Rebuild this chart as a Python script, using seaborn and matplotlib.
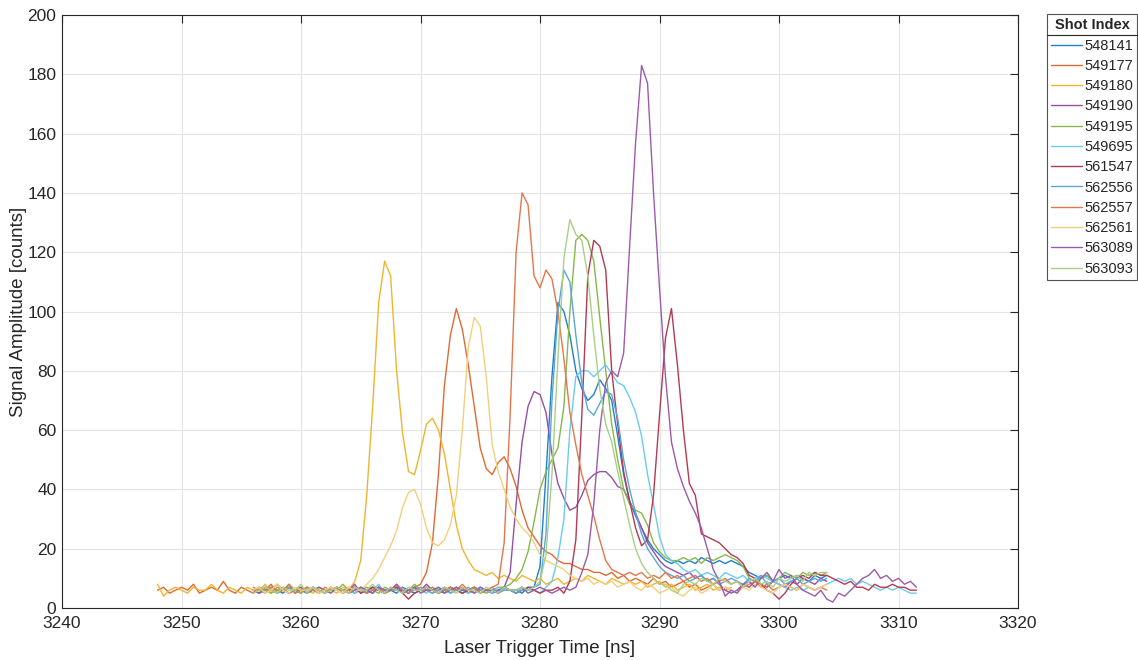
import numpy as np
import pandas as pd
import matplotlib
matplotlib.use('Agg')
import matplotlib.pyplot as plt
import seaborn as sns
from matplotlib.lines import Line2D

# shot numbers, in legend order
shots = ['548141', '549177', '549180', '549190', '549195', '549695',
         '561547', '562556', '562557', '562561', '563089', '563093']

# first sample time of each record [ns], samples every 0.5 ns
start_ns = [3256, 3248, 3248, 3256, 3256, 3264,
            3264, 3256, 3256, 3256, 3264, 3256]
step_ns = 0.5

s548141 = [6, 5, 6, 7, 6, 5, 7, 6, 6, 5,
           7, 6, 5, 6, 7, 6, 6, 5, 7, 6,
           5, 7, 6, 6, 5, 7, 6, 5, 6, 7,
           6, 6, 5, 7, 6, 5, 6, 7, 6, 6,
           5, 6, 7, 6, 6, 5, 7, 7, 14, 45,
           78, 103, 100, 92, 80, 74, 70, 72, 77, 74,
           70, 58, 45, 36, 31, 27, 23, 20, 18, 16,
           15, 16, 15, 16, 15, 17, 16, 15, 16, 15,
           16, 15, 14, 12, 11, 10, 11, 9, 10, 11,
           10, 11, 10, 9, 11, 10, 11]

s549177 = [6, 7, 5, 6, 7, 6, 8, 5, 6, 7,
           6, 9, 6, 5, 7, 6, 5, 7, 6, 8,
           5, 6, 7, 6, 5, 7, 6, 6, 5, 7,
           6, 5, 7, 6, 6, 5, 7, 6, 5, 6,
           7, 6, 5, 7, 8, 12, 22, 45, 75, 92,
           101, 94, 82, 68, 54, 47, 45, 49, 51, 47,
           41, 33, 27, 24, 21, 19, 18, 16, 15, 15,
           14, 13, 13, 12, 12, 11, 12, 10, 11, 9,
           10, 9, 8, 10, 8, 9, 7, 8, 9, 7,
           8, 6, 7, 8, 6, 7, 6]

s549180 = [8, 4, 6, 7, 6, 5, 7, 6, 6, 8,
           6, 5, 7, 6, 5, 7, 6, 6, 8, 5,
           6, 7, 5, 6, 7, 6, 5, 7, 6, 6,
           5, 7, 6, 9, 16, 38, 68, 103, 117, 112,
           80, 59, 46, 45, 53, 62, 64, 60, 52, 40,
           28, 20, 16, 13, 12, 11, 12, 10, 11, 10,
           9, 11, 10, 9, 10, 8, 9, 10, 8, 9,
           10, 9, 11, 10, 9, 8, 10, 9, 8, 9,
           8, 9, 7, 8, 9, 7, 8, 6, 7, 8,
           6, 7, 8, 6, 7, 6, 7]

s549190 = [6, 5, 7, 6, 8, 6, 5, 6, 7, 5,
           6, 7, 6, 5, 7, 6, 6, 8, 5, 6,
           7, 6, 5, 7, 6, 6, 5, 7, 6, 8,
           6, 5, 7, 6, 6, 7, 5, 6, 7, 6,
           5, 6, 7, 12, 35, 56, 68, 73, 72, 66,
           52, 42, 37, 33, 34, 38, 43, 45, 46, 46,
           44, 41, 40, 36, 32, 27, 22, 19, 16, 14,
           13, 12, 11, 12, 10, 11, 9, 10, 8, 6,
           5, 6, 8, 7, 9, 8, 7, 9, 8, 7,
           9, 8, 10, 9, 8, 10, 9]

s549195 = [6, 7, 6, 5, 7, 6, 8, 6, 5, 7,
           6, 6, 5, 7, 6, 8, 6, 5, 6, 7,
           6, 5, 7, 6, 7, 5, 6, 8, 6, 6,
           5, 7, 6, 6, 7, 5, 6, 7, 6, 5,
           6, 7, 7, 8, 10, 13, 19, 29, 40, 46,
           50, 54, 68, 100, 124, 126, 124, 117, 98, 80,
           62, 50, 40, 35, 33, 32, 28, 22, 19, 17,
           16, 16, 17, 16, 17, 15, 17, 16, 17, 18,
           17, 16, 14, 10, 9, 10, 11, 9, 10, 12,
           11, 10, 12, 11, 12, 11, 12]

s549695 = [6, 5, 7, 6, 6, 8, 5, 6, 7, 5,
           6, 7, 6, 5, 7, 6, 6, 5, 7, 6,
           5, 6, 7, 6, 5, 7, 6, 6, 5, 7,
           6, 6, 5, 7, 9, 17, 30, 60, 78, 80,
           80, 78, 80, 82, 79, 76, 75, 71, 66, 58,
           45, 35, 24, 18, 16, 15, 13, 12, 13, 11,
           12, 11, 10, 12, 11, 10, 11, 9, 10, 11,
           10, 9, 8, 7, 6, 7, 6, 7, 6, 7,
           8, 9, 10, 9, 10, 8, 9, 8, 7, 6,
           7, 6, 7, 6, 5, 5]

s561547 = [6, 7, 5, 6, 7, 6, 5, 6, 7, 5,
           3, 5, 6, 7, 6, 5, 6, 7, 6, 5,
           6, 7, 5, 6, 6, 5, 7, 6, 5, 6,
           7, 6, 5, 6, 6, 7, 5, 9, 23, 65,
           112, 124, 122, 114, 80, 62, 46, 36, 27, 21,
           23, 38, 65, 91, 101, 82, 60, 42, 38, 25,
           24, 23, 22, 20, 18, 17, 15, 11, 10, 8,
           6, 5, 3, 5, 8, 10, 11, 10, 12, 11,
           11, 10, 9, 8, 9, 7, 7, 6, 8, 7,
           7, 8, 7, 7, 6, 6]

s562556 = [5, 6, 7, 6, 5, 6, 7, 5, 6, 6,
           7, 5, 6, 6, 7, 6, 5, 7, 6, 5,
           6, 7, 5, 6, 6, 7, 5, 6, 7, 6,
           5, 6, 7, 5, 6, 6, 7, 5, 6, 6,
           7, 5, 6, 6, 5, 6, 6, 7, 8, 25,
           70, 100, 114, 110, 92, 76, 67, 65, 69, 73,
           72, 64, 50, 40, 32, 25, 20, 17, 14, 12,
           11, 10, 11, 9, 10, 11, 9, 10, 8, 9,
           10, 9, 8, 10, 9, 11, 8, 9, 10, 8,
           9, 10, 8, 9, 10, 9, 10]

s562557 = [7, 6, 5, 7, 6, 6, 8, 5, 6, 7,
           6, 5, 7, 6, 7, 5, 6, 6, 7, 5,
           6, 7, 5, 6, 8, 6, 5, 7, 6, 6,
           7, 5, 6, 7, 6, 8, 6, 7, 5, 6,
           7, 8, 22, 65, 120, 140, 136, 112, 108, 114,
           111, 100, 84, 66, 55, 45, 38, 31, 23, 16,
           13, 12, 11, 12, 11, 12, 10, 11, 10, 12,
           10, 11, 9, 10, 11, 9, 10, 8, 9, 10,
           8, 9, 7, 8, 9, 7, 8, 6, 7, 8,
           7, 6, 8, 7, 6, 7, 6]

s562561 = [6, 7, 5, 6, 8, 6, 5, 7, 6, 6,
           7, 5, 6, 7, 6, 5, 7, 6, 6, 8,
           10, 13, 17, 21, 26, 34, 39, 40, 35, 27,
           22, 21, 23, 28, 38, 60, 88, 98, 95, 78,
           55, 46, 40, 34, 30, 27, 25, 22, 18, 16,
           15, 14, 13, 11, 10, 9, 10, 8, 9, 8,
           9, 7, 8, 9, 7, 6, 8, 7, 5, 6,
           7, 5, 4, 6, 7, 5, 6, 8, 6, 7,
           6, 5, 7, 6, 8, 7, 6, 5, 7, 8,
           7, 6, 8, 7, 6, 7, 8]

s563089 = [5, 6, 7, 6, 5, 7, 6, 6, 8, 5,
           6, 7, 5, 6, 6, 7, 5, 6, 7, 6,
           6, 5, 7, 6, 6, 5, 7, 6, 6, 7,
           5, 6, 7, 6, 5, 6, 7, 6, 7, 12,
           18, 35, 60, 76, 80, 78, 86, 122, 157, 183,
           177, 140, 108, 78, 56, 47, 41, 36, 32, 27,
           20, 13, 9, 4, 6, 5, 8, 9, 7, 10,
           12, 9, 13, 10, 11, 8, 6, 5, 4, 6,
           3, 2, 5, 4, 6, 8, 10, 11, 13, 10,
           11, 9, 10, 8, 9, 7]

s563093 = [5, 6, 7, 6, 5, 7, 6, 6, 8, 5,
           7, 6, 5, 6, 7, 6, 5, 7, 6, 6,
           8, 6, 5, 7, 6, 5, 7, 6, 6, 7,
           6, 5, 7, 6, 5, 7, 6, 6, 5, 7,
           6, 5, 7, 6, 6, 7, 6, 7, 9, 18,
           45, 84, 118, 131, 126, 124, 112, 92, 74, 62,
           56, 46, 37, 28, 20, 15, 12, 10, 8, 8,
           6, 5, 8, 9, 8, 10, 9, 8, 10, 9,
           8, 9, 7, 9, 10, 8, 9, 7, 10, 9,
           10, 11, 9, 12, 11, 12, 12]

amplitudes = [s548141, s549177, s549180, s549190, s549195, s549695,
              s561547, s562556, s562557, s562561, s563089, s563093]

colors = ['#1f80c8', '#e06a33', '#efb52f', '#9450a3', '#86b84a', '#6ccaf0',
          '#b23a52', '#5aa5dc', '#e3764a', '#f3cf7c', '#9c5aab', '#a9cf84']

frames = []
for shot, t0, vals in zip(shots, start_ns, amplitudes):
    t = t0 + step_ns * np.arange(len(vals))
    frames.append(pd.DataFrame({'time': t, 'amp': vals, 'shot': shot}))
df = pd.concat(frames, ignore_index=True)

sns.set_style('white')
plt.rcParams['font.family'] = ['Liberation Sans', 'DejaVu Sans']

W, H = 1138, 660
fig = plt.figure(figsize=(W / 100, H / 100), dpi=100)
ax = fig.add_axes([62 / W, 52 / H, 956 / W, 593 / H])

sns.lineplot(data=df, x='time', y='amp', hue='shot', hue_order=shots,
             palette=dict(zip(shots, colors)), linewidth=1.0,
             estimator=None, sort=False, ax=ax)

ax.set_xlim(3240, 3320)
ax.set_ylim(0, 200)
ax.set_xticks(range(3240, 3321, 10))
ax.set_yticks(range(0, 201, 20))
ax.grid(True, color='#e4e4e4', linewidth=0.8)
ax.set_axisbelow(True)
ax.tick_params(direction='in', length=6, top=True, right=True,
               labelsize=12.5, colors='#262626', width=0.8)
ax.tick_params(axis='x', pad=6)
ax.tick_params(axis='y', pad=4)
for s in ax.spines.values():
    s.set_color('#262626')
    s.set_linewidth(0.8)
ax.set_xlabel('Laser Trigger Time [ns]', fontsize=13.5, color='#262626', labelpad=6)
ax.set_ylabel('Signal Amplitude [counts]', fontsize=13.5, color='#262626', labelpad=0)

leg = ax.legend(title='Shot Index', loc='upper left',
                bbox_to_anchor=(1047 / W, 646 / H), bbox_transform=fig.transFigure,
                frameon=True, fancybox=False, edgecolor='#262626',
                fontsize=10.5, title_fontsize=10.5, handlelength=2.1,
                handletextpad=0.15, labelspacing=0.43, borderaxespad=0,
                borderpad=0.3)
leg.get_title().set_fontweight('bold')
leg.get_frame().set_linewidth(0.8)

# line under the legend title
fig.canvas.draw()
tb = leg.get_title().get_window_extent()
fb = leg.get_frame().get_window_extent()
yl = (tb.y0 - 3) / H
fig.add_artist(Line2D([fb.x0 / W, fb.x1 / W], [yl, yl], transform=fig.transFigure,
                      color='#262626', linewidth=0.8))

fig.savefig('out.png', dpi=100)
